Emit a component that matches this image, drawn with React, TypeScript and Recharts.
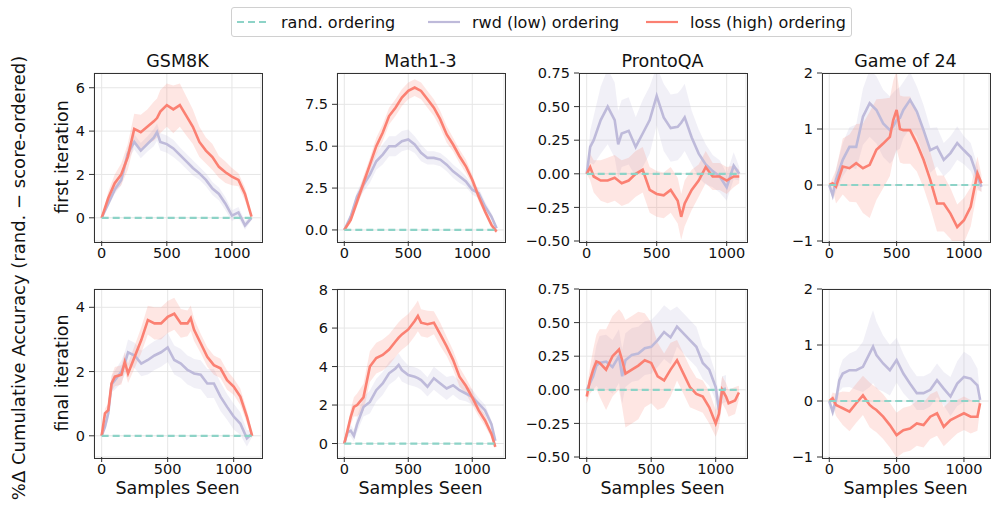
import React from 'react';
import { ComposedChart, Line, Area, XAxis, YAxis, CartesianGrid } from 'recharts';

// colours (matplotlib Set3)
const RAND_C = '#8dd3c7';
const RWD_C = '#bebada';
const LOSS_C = '#fb8072';
const FONT = '"DejaVu Sans", sans-serif';

const TITLES = ['GSM8K', 'Math1-3', 'ProntoQA', 'Game of 24'];
const ROW_LABELS = ['first iteration', 'final iteration'];
const X_TICKS = [0, 500, 1000];

// ---- GSM8K, first iteration
const GSM_FIRST_X = [0, 50, 100, 150, 200, 250, 300, 350, 400, 425, 450, 500, 550, 600, 650, 700, 750, 800, 850, 900, 950, 1000, 1050, 1100, 1150];
const GSM_FIRST_RWD = [0, 0.65, 1.3, 1.75, 2.95, 3.5, 3.1, 3.4, 3.7, 3.95, 3.5, 3.4, 3.2, 2.9, 2.6, 2.3, 2.05, 1.75, 1.35, 1.1, 0.65, 0.1, 0.25, -0.35, 0.0];
const GSM_FIRST_LOSS = [0, 0.9, 1.6, 2.0, 2.8, 4.1, 3.95, 4.2, 4.45, 4.6, 4.9, 5.2, 5.0, 5.2, 4.7, 4.2, 3.5, 3.1, 2.8, 2.35, 2.1, 1.9, 1.75, 1.1, 0.05];
const GSM_FIRST_RWD_W = [0, 0.15, 0.2, 0.25, 0.3, 0.35, 0.35, 0.35, 0.4, 0.4, 0.4, 0.4, 0.4, 0.35, 0.35, 0.35, 0.3, 0.3, 0.3, 0.3, 0.3, 0.25, 0.25, 0.2, 0.1];
const GSM_FIRST_LOSS_W = [0, 0.3, 0.4, 0.5, 0.6, 0.7, 0.8, 0.8, 0.9, 0.9, 1.0, 1.0, 1.1, 1.0, 0.9, 0.8, 0.7, 0.6, 0.6, 0.5, 0.5, 0.4, 0.3, 0.3, 0.1];

// ---- Math1-3, first iteration
const MATH_FIRST_X = [0, 50, 100, 150, 200, 250, 300, 350, 400, 450, 500, 550, 600, 650, 700, 750, 800, 850, 900, 950, 1000, 1050, 1100, 1150, 1190];
const MATH_FIRST_RWD = [0, 0.8, 2.0, 2.7, 3.3, 4.1, 4.5, 5.0, 5.0, 5.3, 5.4, 5.1, 4.6, 4.3, 4.3, 4.2, 3.9, 3.5, 3.2, 2.9, 2.4, 2.2, 1.4, 0.8, 0.1];
const MATH_FIRST_LOSS = [0, 0.6, 1.7, 2.8, 3.9, 5.0, 5.8, 6.8, 7.3, 7.9, 8.3, 8.5, 8.3, 7.8, 7.3, 6.6, 5.7, 5.1, 4.4, 3.8, 3.0, 2.0, 1.1, 0.3, -0.1];
const MATH_FIRST_RWD_W = [0, 0.2, 0.3, 0.4, 0.5, 0.5, 0.6, 0.6, 0.6, 0.6, 0.6, 0.5, 0.5, 0.4, 0.4, 0.4, 0.4, 0.4, 0.4, 0.3, 0.3, 0.3, 0.3, 0.2, 0.1];
const MATH_FIRST_LOSS_W = [0, 0.2, 0.3, 0.4, 0.4, 0.5, 0.5, 0.5, 0.5, 0.5, 0.5, 0.5, 0.5, 0.5, 0.5, 0.5, 0.5, 0.4, 0.4, 0.4, 0.3, 0.3, 0.2, 0.2, 0.1];

// ---- ProntoQA, first iteration
const PQA_FIRST_X = [0, 25, 50, 100, 150, 200, 225, 250, 300, 350, 400, 450, 500, 550, 600, 650, 675, 700, 750, 800, 850, 900, 950, 1000, 1050, 1090];
const PQA_FIRST_RWD = [0, 0.2, 0.25, 0.4, 0.5, 0.4, 0.22, 0.3, 0.32, 0.2, 0.3, 0.4, 0.58, 0.42, 0.34, 0.35, 0.38, 0.42, 0.27, 0.15, 0.07, 0.02, -0.02, -0.1, 0.06, 0.0];
const PQA_FIRST_LOSS = [0, 0.05, -0.02, -0.05, -0.05, -0.03, -0.05, -0.07, -0.05, 0.0, 0.03, -0.12, -0.15, -0.16, -0.12, -0.2, -0.32, -0.22, -0.12, -0.05, 0.05, -0.02, -0.02, -0.05, -0.02, -0.02];
const PQA_FIRST_RWD_W = [0, 0.12, 0.18, 0.25, 0.28, 0.28, 0.25, 0.25, 0.25, 0.22, 0.25, 0.25, 0.22, 0.25, 0.25, 0.25, 0.25, 0.25, 0.2, 0.18, 0.15, 0.12, 0.12, 0.1, 0.1, 0.05];
const PQA_FIRST_LOSS_W = [0, 0.1, 0.12, 0.15, 0.17, 0.17, 0.17, 0.17, 0.17, 0.17, 0.17, 0.17, 0.17, 0.17, 0.17, 0.17, 0.17, 0.17, 0.15, 0.12, 0.12, 0.1, 0.1, 0.1, 0.08, 0.05];

// ---- Game of 24, first iteration
const G24_FIRST_X = [0, 25, 50, 100, 150, 200, 250, 300, 350, 400, 450, 475, 500, 525, 550, 600, 650, 700, 750, 800, 850, 900, 950, 1000, 1050, 1100, 1130];
const G24_FIRST_RWD = [0, -0.18, 0.09, 0.45, 0.68, 0.68, 1.22, 1.46, 1.34, 1.1, 0.98, 1.05, 1.16, 1.2, 1.34, 1.52, 1.31, 0.98, 0.62, 0.68, 0.45, 0.57, 0.75, 0.62, 0.5, 0.15, -0.03];
const G24_FIRST_LOSS = [0, 0.03, -0.03, 0.33, 0.3, 0.39, 0.3, 0.36, 0.63, 0.74, 0.86, 1.16, 1.34, 1.0, 0.98, 0.98, 0.74, 0.45, 0.09, -0.33, -0.33, -0.51, -0.75, -0.63, -0.39, 0.21, 0.03];
const G24_FIRST_RWD_W = [0, 0.1, 0.2, 0.3, 0.35, 0.4, 0.5, 0.6, 0.6, 0.6, 0.6, 0.6, 0.55, 0.55, 0.5, 0.5, 0.45, 0.45, 0.4, 0.35, 0.3, 0.3, 0.3, 0.25, 0.25, 0.2, 0.1];
const G24_FIRST_LOSS_W = [0, 0.1, 0.3, 0.5, 0.6, 0.7, 0.8, 0.95, 0.9, 0.8, 0.7, 0.7, 0.7, 0.6, 0.6, 0.6, 0.5, 0.5, 0.5, 0.5, 0.5, 0.45, 0.4, 0.4, 0.35, 0.3, 0.15];

// ---- GSM8K, final iteration
const GSM_FINAL_X = [0, 25, 50, 75, 100, 150, 175, 200, 250, 300, 350, 400, 450, 500, 550, 600, 650, 675, 700, 750, 800, 850, 900, 950, 1000, 1050, 1100, 1140];
const GSM_FINAL_RWD = [0, 0.28, 0.7, 1.6, 1.73, 2.0, 2.25, 2.6, 2.5, 2.25, 2.36, 2.5, 2.6, 2.75, 2.36, 2.25, 2.05, 2.0, 1.94, 1.9, 1.63, 1.63, 1.22, 0.9, 0.6, 0.38, -0.08, 0.07];
const GSM_FINAL_LOSS = [0, 0.7, 0.8, 1.63, 1.84, 1.9, 2.3, 1.94, 2.46, 2.98, 3.6, 3.5, 3.5, 3.7, 3.8, 3.5, 3.5, 3.66, 3.3, 2.88, 2.46, 2.2, 2.1, 1.73, 1.53, 1.22, 0.6, 0.0];
const GSM_FINAL_RWD_W = [0, 0.1, 0.2, 0.25, 0.3, 0.35, 0.35, 0.4, 0.4, 0.4, 0.45, 0.45, 0.45, 0.45, 0.45, 0.45, 0.45, 0.45, 0.45, 0.45, 0.45, 0.45, 0.45, 0.4, 0.4, 0.35, 0.25, 0.1];
const GSM_FINAL_LOSS_W = [0, 0.15, 0.2, 0.25, 0.3, 0.3, 0.3, 0.3, 0.35, 0.4, 0.45, 0.5, 0.5, 0.5, 0.5, 0.45, 0.4, 0.4, 0.35, 0.3, 0.3, 0.3, 0.3, 0.3, 0.25, 0.25, 0.2, 0.1];

// ---- Math1-3, final iteration
const MATH_FINAL_X = [0, 25, 50, 75, 100, 150, 200, 250, 300, 350, 400, 425, 450, 500, 550, 575, 600, 650, 700, 750, 800, 850, 900, 950, 1000, 1050, 1100, 1150, 1180];
const MATH_FINAL_RWD = [0, 0.58, 0.67, 0.4, 1.0, 1.9, 2.16, 2.77, 3.12, 3.65, 3.9, 4.09, 3.82, 3.56, 3.47, 3.4, 3.3, 2.95, 3.39, 3.12, 2.86, 3.03, 2.77, 2.6, 2.42, 2.07, 1.72, 1.0, 0.14];
const MATH_FINAL_LOSS = [0, 0.67, 1.37, 1.9, 2.0, 2.4, 4.0, 4.44, 4.6, 4.88, 5.3, 5.5, 5.67, 5.93, 6.37, 6.63, 6.28, 6.2, 6.28, 5.67, 5.05, 4.35, 3.47, 3.0, 2.4, 1.72, 1.2, 0.5, -0.17];
const MATH_FINAL_RWD_W = [0, 0.2, 0.3, 0.3, 0.4, 0.5, 0.6, 0.6, 0.6, 0.6, 0.6, 0.6, 0.6, 0.5, 0.5, 0.5, 0.5, 0.5, 0.6, 0.6, 0.6, 0.5, 0.5, 0.4, 0.4, 0.3, 0.3, 0.2, 0.1];
const MATH_FINAL_LOSS_W = [0, 0.2, 0.4, 0.5, 0.6, 0.7, 0.8, 0.8, 0.8, 0.8, 0.8, 0.8, 0.8, 0.8, 0.8, 0.8, 0.7, 0.7, 0.6, 0.6, 0.5, 0.5, 0.5, 0.4, 0.4, 0.3, 0.3, 0.2, 0.1];

// ---- ProntoQA, final iteration (rwd run is shorter)
const PQA_FINAL_X = [0, 25, 50, 75, 100, 150, 200, 250, 275, 300, 350, 400, 450, 500, 550, 600, 650, 700, 750, 800, 850, 900, 950, 1000, 1025, 1050, 1080, 1100, 1150, 1180];
const PQA_FINAL_RWD = [0, 0.05, 0.1, 0.18, 0.2, 0.21, 0.17, 0.25, 0.1, 0.22, 0.26, 0.27, 0.31, 0.32, 0.37, 0.43, 0.39, 0.47, 0.42, 0.37, 0.32, 0.2, 0.15, 0.02, -0.15, 0.0, 0.01, null, null, null];
const PQA_FINAL_LOSS = [-0.05, 0.07, 0.15, 0.21, 0.2, 0.15, 0.25, 0.3, 0.22, 0.12, 0.15, 0.18, 0.22, 0.2, 0.1, 0.07, 0.15, 0.22, 0.12, 0.02, -0.03, -0.05, -0.13, -0.25, -0.18, 0.0, -0.05, -0.1, -0.08, -0.02];
const PQA_FINAL_RWD_W = [0, 0.05, 0.1, 0.15, 0.2, 0.2, 0.2, 0.2, 0.2, 0.2, 0.2, 0.2, 0.2, 0.2, 0.2, 0.2, 0.2, 0.15, 0.15, 0.15, 0.15, 0.12, 0.12, 0.1, 0.1, 0.1, 0.1, null, null, null];
const PQA_FINAL_LOSS_W = [0.05, 0.1, 0.15, 0.2, 0.25, 0.3, 0.3, 0.3, 0.35, 0.4, 0.4, 0.4, 0.35, 0.3, 0.25, 0.2, 0.2, 0.15, 0.15, 0.15, 0.12, 0.12, 0.12, 0.1, 0.1, 0.1, 0.1, 0.1, 0.1, 0.05];

// ---- Game of 24, final iteration
const G24_FINAL_X = [0, 25, 50, 75, 100, 150, 200, 250, 300, 325, 350, 400, 450, 500, 550, 600, 650, 700, 750, 800, 850, 900, 950, 1000, 1050, 1100, 1120];
const G24_FINAL_RWD = [0, -0.19, 0.02, 0.37, 0.49, 0.55, 0.55, 0.61, 0.85, 0.97, 0.82, 0.67, 0.55, 0.73, 0.49, 0.31, 0.14, 0.14, 0.2, 0.37, 0.22, 0.08, 0.31, 0.43, 0.4, 0.28, 0.02];
const G24_FINAL_LOSS = [0, 0.05, -0.07, -0.1, -0.13, -0.19, -0.04, 0.1, -0.07, -0.12, -0.16, -0.28, -0.43, -0.61, -0.52, -0.49, -0.4, -0.43, -0.28, -0.22, -0.46, -0.34, -0.28, -0.22, -0.28, -0.28, -0.04];
const G24_FINAL_RWD_W = [0, 0.1, 0.15, 0.2, 0.25, 0.3, 0.35, 0.45, 0.6, 0.65, 0.6, 0.5, 0.45, 0.4, 0.35, 0.3, 0.3, 0.3, 0.3, 0.3, 0.3, 0.35, 0.4, 0.45, 0.4, 0.3, 0.1];
const G24_FINAL_LOSS_W = [0, 0.1, 0.2, 0.25, 0.3, 0.35, 0.35, 0.35, 0.4, 0.4, 0.4, 0.4, 0.4, 0.4, 0.4, 0.4, 0.4, 0.4, 0.4, 0.4, 0.35, 0.35, 0.3, 0.3, 0.3, 0.25, 0.1];

// y ticks per column
const Y_TICKS_FIRST = [[0, 2, 4, 6], [0, 2.5, 5, 7.5], [-0.5, -0.25, 0, 0.25, 0.5, 0.75], [-1, 0, 1, 2]];
const Y_TICKS_FINAL = [[0, 2, 4], [0, 2, 4, 6, 8], [-0.5, -0.25, 0, 0.25, 0.5, 0.75], [-1, 0, 1, 2]];

// layout (plot boxes in page px)
const BOX_LEFT = [94, 337, 579, 822];
const BOX_TOP = [73, 289];
const PLOT_W = 167;
const PLOT_H = 168;

type Panel = {
  x: number[];
  rwd: (number | null)[];
  loss: (number | null)[];
  rwdW: (number | null)[];
  lossW: (number | null)[];
  xDomain: [number, number];
  yDomain: [number, number];
  yTicks: number[];
  dec: number;
};

const PANELS: Panel[][] = [
  [
    { x: GSM_FIRST_X, rwd: GSM_FIRST_RWD, loss: GSM_FIRST_LOSS, rwdW: GSM_FIRST_RWD_W, lossW: GSM_FIRST_LOSS_W, xDomain: [-59, 1223], yDomain: [-1.07, 6.68], yTicks: Y_TICKS_FIRST[0], dec: 0 },
    { x: MATH_FIRST_X, rwd: MATH_FIRST_RWD, loss: MATH_FIRST_LOSS, rwdW: MATH_FIRST_RWD_W, lossW: MATH_FIRST_LOSS_W, xDomain: [-57, 1248], yDomain: [-0.66, 9.37], yTicks: Y_TICKS_FIRST[1], dec: 1 },
    { x: PQA_FIRST_X, rwd: PQA_FIRST_RWD, loss: PQA_FIRST_LOSS, rwdW: PQA_FIRST_RWD_W, lossW: PQA_FIRST_LOSS_W, xDomain: [-55, 1138], yDomain: [-0.5, 0.75], yTicks: Y_TICKS_FIRST[2], dec: 2 },
    { x: G24_FIRST_X, rwd: G24_FIRST_RWD, loss: G24_FIRST_LOSS, rwdW: G24_FIRST_RWD_W, lossW: G24_FIRST_LOSS_W, xDomain: [-54, 1186], yDomain: [-1, 2], yTicks: Y_TICKS_FIRST[3], dec: 0 },
  ],
  [
    { x: GSM_FINAL_X, rwd: GSM_FINAL_RWD, loss: GSM_FINAL_LOSS, rwdW: GSM_FINAL_RWD_W, lossW: GSM_FINAL_LOSS_W, xDomain: [-58, 1207], yDomain: [-0.66, 4.57], yTicks: Y_TICKS_FINAL[0], dec: 0 },
    { x: MATH_FINAL_X, rwd: MATH_FINAL_RWD, loss: MATH_FINAL_LOSS, rwdW: MATH_FINAL_RWD_W, lossW: MATH_FINAL_LOSS_W, xDomain: [-57, 1248], yDomain: [-0.7, 8.03], yTicks: Y_TICKS_FINAL[1], dec: 0 },
    { x: PQA_FINAL_X, rwd: PQA_FINAL_RWD, loss: PQA_FINAL_LOSS, rwdW: PQA_FINAL_RWD_W, lossW: PQA_FINAL_LOSS_W, xDomain: [-60, 1235], yDomain: [-0.5, 0.75], yTicks: Y_TICKS_FINAL[2], dec: 2 },
    { x: G24_FINAL_X, rwd: G24_FINAL_RWD, loss: G24_FINAL_LOSS, rwdW: G24_FINAL_RWD_W, lossW: G24_FINAL_LOSS_W, xDomain: [-54, 1186], yDomain: [-1, 2], yTicks: Y_TICKS_FINAL[3], dec: 0 },
  ],
];

const band = (v: number | null, w: number | null) =>
  v == null || w == null ? null : [v - w, v + w];

const buildRows = (p: Panel) =>
  p.x.map((x, i) => ({
    x,
    rand: 0,
    rwd: p.rwd[i],
    loss: p.loss[i],
    rwdBand: band(p.rwd[i], p.rwdW[i]),
    lossBand: band(p.loss[i], p.lossW[i]),
  }));

const tickStyle = { fontSize: 14.5, fill: '#111', fontFamily: FONT };

const SubChart = ({ p, left, top }: { p: Panel; left: number; top: number }) => {
  const fmt = (v: number) => v.toFixed(p.dec).replace('-', '\u2212');
  return (
    <>
      <div style={{ position: 'absolute', left: left - 60, top: top - 10 }}>
        <ComposedChart
          width={PLOT_W + 70}
          height={PLOT_H + 40}
          data={buildRows(p)}
          margin={{ top: 10, right: 10, left: 0, bottom: 0 }}
        >
          <CartesianGrid stroke="#e6e6e6" strokeWidth={1} />
          <XAxis
            dataKey="x"
            type="number"
            domain={p.xDomain}
            ticks={X_TICKS}
            allowDataOverflow
            height={30}
            axisLine={false}
            tickLine={{ stroke: '#333' }}
            tickSize={5}
            tickMargin={2}
            tick={tickStyle}
            interval={0}
          />
          <YAxis
            type="number"
            domain={p.yDomain}
            ticks={p.yTicks}
            allowDataOverflow
            width={60}
            axisLine={false}
            tickLine={{ stroke: '#333' }}
            tickSize={5}
            tickMargin={4}
            tick={tickStyle}
            tickFormatter={fmt}
            interval={0}
          />
          <Area dataKey="rwdBand" stroke="none" fill={RWD_C} fillOpacity={0.22} isAnimationActive={false} />
          <Area dataKey="lossBand" stroke="none" fill={LOSS_C} fillOpacity={0.2} isAnimationActive={false} />
          <Line dataKey="rwd" stroke={RWD_C} strokeWidth={2.6} dot={false} isAnimationActive={false} />
          <Line dataKey="loss" stroke={LOSS_C} strokeWidth={2.6} dot={false} isAnimationActive={false} />
          <Line dataKey="rand" stroke={RAND_C} strokeWidth={2.2} strokeDasharray="7 4" dot={false} isAnimationActive={false} />
        </ComposedChart>
      </div>
      <div
        style={{
          position: 'absolute',
          left: left - 0.5,
          top: top - 0.5,
          width: PLOT_W,
          height: PLOT_H,
          border: '1px solid #333',
          pointerEvents: 'none',
        }}
      />
    </>
  );
};

const LegendItem = ({ color, dashed, label, left }: { color: string; dashed?: boolean; label: string; left: number }) => (
  <div style={{ position: 'absolute', left, top: 0, height: 28, display: 'flex', alignItems: 'center' }}>
    <svg width={33} height={10} style={{ marginRight: 12 }}>
      <line x1={1} y1={5} x2={33} y2={5} stroke={color} strokeWidth={2.2} strokeDasharray={dashed ? '7 4' : undefined} />
    </svg>
    <span style={{ fontSize: 16, color: '#111', whiteSpace: 'nowrap' }}>{label}</span>
  </div>
);

export default function App() {
  return (
    <div
      style={{
        position: 'absolute',
        left: 0,
        top: 0,
        width: 997,
        height: 510,
        background: '#fff',
        fontFamily: FONT,
        overflow: 'hidden',
      }}
    >
      {/* legend */}
      <div
        style={{
          position: 'absolute',
          left: 231,
          top: 7,
          width: 619,
          height: 28,
          border: '1px solid #d0d0d0',
          borderRadius: 3,
        }}
      >
        <LegendItem color={RAND_C} dashed label="rand. ordering" left={4} />
        <LegendItem color={RWD_C} label="rwd (low) ordering" left={195} />
        <LegendItem color={LOSS_C} label="loss (high) ordering" left={413} />
      </div>

      {/* titles */}
      {TITLES.map((t, c) => (
        <div
          key={t}
          style={{
            position: 'absolute',
            left: BOX_LEFT[c],
            width: PLOT_W,
            top: 51,
            textAlign: 'center',
            fontSize: 17.5,
            color: '#111',
            whiteSpace: 'nowrap',
          }}
        >
          {t}
        </div>
      ))}

      {PANELS.map((row, r) =>
        row.map((p, c) => <SubChart key={`${r}-${c}`} p={p} left={BOX_LEFT[c]} top={BOX_TOP[r]} />)
      )}

      {/* x labels */}
      {BOX_LEFT.map((l, c) => (
        <div
          key={c}
          style={{
            position: 'absolute',
            left: l,
            width: PLOT_W,
            top: 478,
            textAlign: 'center',
            fontSize: 17.5,
            color: '#111',
            whiteSpace: 'nowrap',
          }}
        >
          Samples Seen
        </div>
      ))}

      {/* row labels */}
      {ROW_LABELS.map((t, r) => (
        <div
          key={t}
          style={{
            position: 'absolute',
            left: 62 - 100,
            top: BOX_TOP[r] + PLOT_H / 2 - 11,
            width: 200,
            height: 22,
            lineHeight: '22px',
            textAlign: 'center',
            fontSize: 17.5,
            color: '#111',
            transform: 'rotate(-90deg)',
            whiteSpace: 'nowrap',
          }}
        >
          {t}
        </div>
      ))}

      {/* shared y label */}
      <div
        style={{
          position: 'absolute',
          left: 19 - 260,
          top: 278 - 11,
          width: 520,
          height: 22,
          lineHeight: '22px',
          textAlign: 'center',
          fontSize: 18,
          color: '#111',
          transform: 'rotate(-90deg)',
          whiteSpace: 'nowrap',
        }}
      >
        %Δ Cumulative Accuracy (rand. − score-ordered)
      </div>
    </div>
  );
}
